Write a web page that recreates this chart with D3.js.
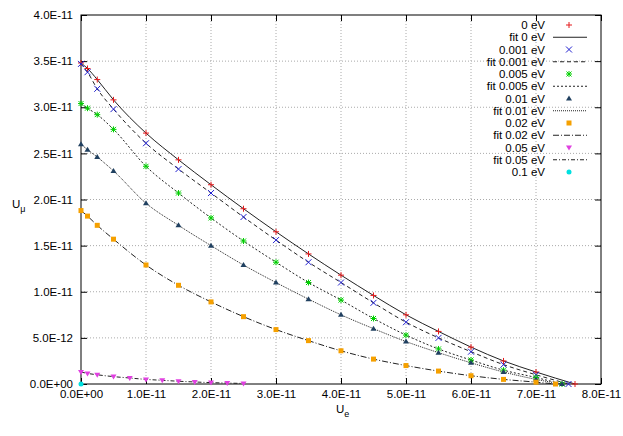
<!DOCTYPE html>
<html><head><meta charset="utf-8">
<script src="https://cdn.jsdelivr.net/npm/d3@7"></script>
<style>body{margin:0;background:#fff}text{font-family:"Liberation Sans",Arial,sans-serif;font-size:11.5px}</style>
</head><body><svg id="c" width="623" height="436"></svg>
<script>
// values in units of 1E-11
var xTicks = [0,1,2,3,4,5,6,7,8]
var yTicks = [0,0.5,1,1.5,2,2.5,3,3.5,4]
var xs = [0,0.1,0.25,0.5,1,1.5,2,2.5,3,3.5,4,4.5,5,5.5,6,6.5,7]

var s0   = [3.48,3.42,3.30,3.08,2.72,2.43,2.16,1.90,1.65,1.41,1.18,0.96,0.75,0.57,0.40,0.25,0.13]
var s001 = [3.47,3.38,3.20,2.98,2.61,2.33,2.07,1.81,1.56,1.32,1.10,0.88,0.67,0.50,0.35,0.21,0.10]
var s005 = [3.04,2.99,2.92,2.76,2.36,2.07,1.80,1.55,1.32,1.10,0.91,0.71,0.53,0.38,0.26,0.15,0.07]
var s01  = [2.60,2.54,2.46,2.31,1.96,1.72,1.50,1.29,1.10,0.92,0.75,0.60,0.46,0.34,0.23,0.13,0.05]
var s02  = [1.88,1.82,1.72,1.57,1.29,1.07,0.89,0.73,0.59,0.47,0.36,0.27,0.20,0.14,0.09,0.05,0.02]
var xs05 = [0,0.1,0.25,0.5,0.75,1,1.25,1.5,1.75,2,2.25,2.5]
var s05  = [0.13,0.115,0.10,0.08,0.065,0.05,0.04,0.03,0.022,0.015,0.01,0.006]
var ends = [7.6,7.5,7.4,7.4,7.3]

var names = ["0 eV","0.001 eV","0.005 eV","0.01 eV","0.02 eV","0.05 eV","0.1 eV"]
var colors = ["#e41a1c","#2020d0","#00d000","#204060","#f5a000","#e040e0","#00e0e0"]
var dashes = [null,"4,3","2,2","1,1","6,2,1,2","4,2,1,2"]

var svg = d3.select("#c")
var x = d3.scaleLinear().domain([0,8]).range([81,601])
var y = d3.scaleLinear().domain([0,4]).range([384,15])
var fmtX = d => d===0 ? "0.0E+00" : d.toFixed(1)+"E-11"
var fmtY = d => d===0 ? "0.0E+00" : d<1 ? (d*10).toFixed(1)+"E-12" : d.toFixed(1)+"E-11"

// grid
svg.append("g").selectAll("line").data(xTicks.slice(1,-1)).join("line")
  .attr("x1",d=>x(d)).attr("x2",d=>x(d)).attr("y1",15).attr("y2",384)
  .attr("stroke","#aaa").attr("stroke-dasharray","1,2")
svg.append("g").selectAll("line").data(yTicks.slice(1,-1)).join("line")
  .attr("x1",81).attr("x2",601).attr("y1",d=>y(d)).attr("y2",d=>y(d))
  .attr("stroke","#aaa").attr("stroke-dasharray","1,2")

function ax(g){ g.selectAll(".domain").remove(); g.selectAll("line").attr("stroke","#000") }
svg.append("g").attr("transform","translate(0,384)").call(d3.axisBottom(x).tickValues(xTicks).tickFormat(fmtX).tickSize(-6).tickPadding(6)).call(ax)
svg.append("g").attr("transform","translate(0,15)").call(d3.axisTop(x).tickValues(xTicks).tickFormat("").tickSize(-6)).call(ax)
svg.append("g").attr("transform","translate(81,0)").call(d3.axisLeft(y).tickValues(yTicks).tickFormat(fmtY).tickSize(-6).tickPadding(8)).call(ax)
svg.append("g").attr("transform","translate(601,0)").call(d3.axisRight(y).tickValues(yTicks).tickFormat("").tickSize(-6)).call(ax)
svg.selectAll(".tick text").attr("fill","#000").style("font-size","11.5px")
svg.append("rect").attr("x",81).attr("y",15).attr("width",520).attr("height",369).attr("fill","none").attr("stroke","#000")

var series = [s0,s001,s005,s01,s02].map((s,i)=>({xs:xs.concat([ends[i]]), ys:s.concat([0])}))
series.push({xs:xs05, ys:s05})

var line = d3.line().curve(d3.curveMonotoneX)
var shapes = ["plus","cross","star","tri","square","tridown"]
function marker(g,t,c){
  if(t==="plus") g.append("path").attr("d","M-3,0H3M0,-3V3").attr("stroke",c)
  else if(t==="cross") g.append("path").attr("d","M-3,-3L3,3M-3,3L3,-3").attr("stroke",c)
  else if(t==="star") g.append("path").attr("d","M-3,0H3M0,-3V3M-2.5,-2.5L2.5,2.5M-2.5,2.5L2.5,-2.5").attr("stroke",c)
  else if(t==="tri") g.append("path").attr("d","M0,-3L3,2H-3Z").attr("fill",c)
  else if(t==="square") g.append("rect").attr("x",-2.5).attr("y",-2.5).attr("width",5).attr("height",5).attr("fill",c)
  else if(t==="tridown") g.append("path").attr("d","M0,3L3,-2H-3Z").attr("fill",c)
  else g.append("circle").attr("r",2.5).attr("fill",c)
}
series.forEach((s,i)=>{
  var pts = s.xs.map((v,j)=>[x(v),y(s.ys[j])])
  svg.append("path").attr("d",line(pts)).attr("fill","none").attr("stroke","#222").attr("stroke-width",1)
    .attr("stroke-dasharray",dashes[i])
  pts.forEach(p=>{ var g=svg.append("g").attr("transform","translate("+p+")"); marker(g,shapes[i],colors[i]) })
})
var g6 = svg.append("g").attr("transform","translate("+x(0)+","+y(0)+")"); marker(g6,"circle",colors[6])

// legend
var rows = []
names.forEach((n,i)=>{ rows.push({t:n,k:"m",i:i}); if(i<6) rows.push({t:"fit "+n,k:"l",i:i}) })
rows.forEach((r,j)=>{
  var yy = 25 + j*12.25
  svg.append("text").attr("x",545).attr("y",yy+4).attr("text-anchor","end").text(r.t)
  if(r.k==="l") svg.append("line").attr("x1",553).attr("x2",587).attr("y1",yy).attr("y2",yy)
    .attr("stroke","#222").attr("stroke-dasharray",dashes[r.i])
  else { var g=svg.append("g").attr("transform","translate(569,"+yy+")"); marker(g,r.i<6?shapes[r.i]:"circle",colors[r.i]) }
})

svg.append("text").attr("x",12).attr("y",208).text("U").append("tspan").attr("dy",4).style("font-size","9px").text("μ")
svg.append("text").attr("x",336).attr("y",413).text("U").append("tspan").attr("dy",4).style("font-size","9px").text("e")
</script></body></html>
